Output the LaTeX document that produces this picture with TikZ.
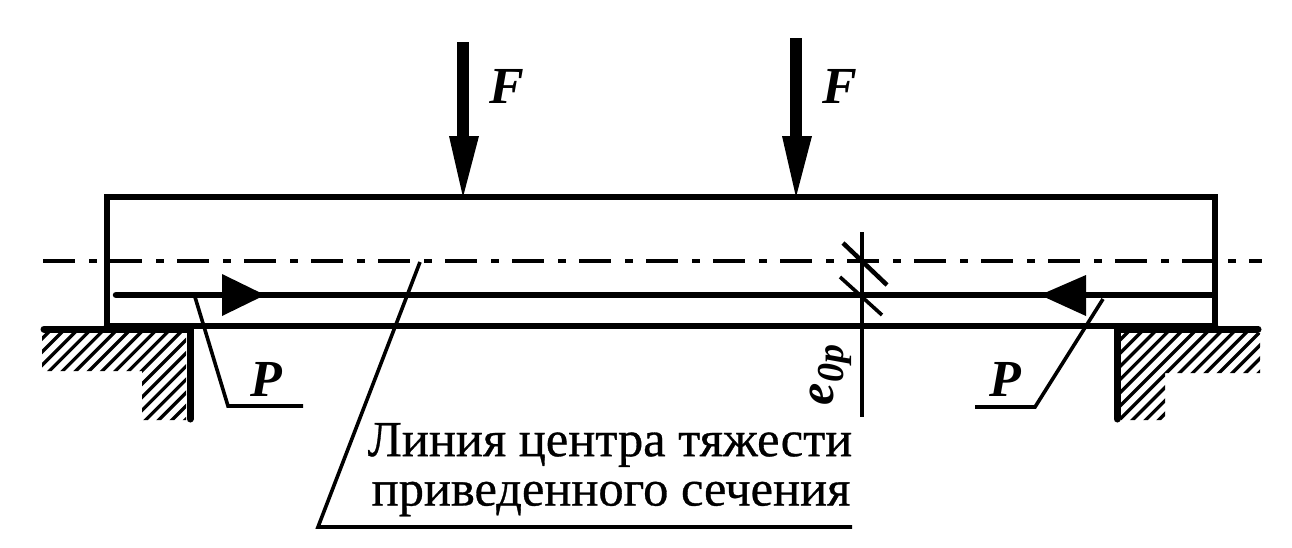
\documentclass[tikz,border=0pt]{standalone}
\usepackage{fontspec}
\setmainfont{Liberation Serif}
\begin{document}
\begin{tikzpicture}[x=1pt,y=-1pt,
  thick line/.style={line width=6.5pt,line cap=round},
  thin line/.style={line width=3.6pt},
  hatching/.style={line width=3.3pt},
  label/.style={inner sep=0pt,font=\fontsize{52}{52}\selectfont\bfseries\itshape},
  caption/.style={inner sep=0pt,font=\fontsize{50.5}{50.5}\selectfont\addfontfeature{FakeBold=0.6}},
]
\useasboundingbox[fill=white] (0,0) rectangle (1292,547);
% hatching
\begin{scope}
\clip (42,333) -- (186,333) -- (186,420) -- (142,420) -- (142,371) -- (42,371) -- cycle;
\foreach \i in {-6,...,20}{\draw[hatching] (30+\i*13.2,430) -- (30+\i*13.2+100,330);}
\end{scope}
\begin{scope}
\clip (1121,333) -- (1260,333) -- (1260,373) -- (1165,373) -- (1165,420) -- (1121,420) -- cycle;
\foreach \i in {-2,...,24}{\draw[hatching] (1030+\i*13.2,430) -- (1030+\i*13.2+100,330);}
\end{scope}
% beam
\draw[thick line] (107,326) -- (107,197) -- (1215,197) -- (1215,326);
\draw[thick line] (107,326) -- (1215,326);
% supports
\draw[line width=7pt,line cap=round] (44,329) -- (190,329) -- (190,419);
\draw[line width=7pt,line cap=round] (1117,419) -- (1117,329) -- (1258,329);
% centroid line
\draw[line width=4pt,dash pattern=on 32pt off 14pt on 8pt off 13pt] (43,261) -- (1262,261);
% tendon
\draw[thick line] (116,295) -- (1214,295);
\fill (222,274) -- (265,295) -- (222,316) -- cycle;
\fill (1040,295) -- (1086,275) -- (1086,316) -- cycle;
% forces
\draw[line width=12pt] (463,42) -- (463,145);
\fill (449,136) -- (479,136) -- (463,197) -- cycle;
\draw[line width=12pt] (796,38) -- (796,145);
\fill (782,136) -- (812,136) -- (796,197) -- cycle;
\node[label] (f1) at (507,86) {F};
\node[label] (f2) at (840,86) {F};
% dimension
\draw[line width=3.6pt] (862,232) -- (862,417);
\draw[line width=4.5pt] (843,243) -- (887,285);
\draw[line width=3.6pt] (840,277) -- (882,315);
\node[rotate=90,inner sep=0pt,font=\fontsize{50}{50}\selectfont\bfseries\itshape] (e) at (831,375) {e\raisebox{-0.2em}{\fontsize{38}{38}\selectfont 0\textit{p}}};
% leaders
\node[label] (p1) at (266,379) {P};
\node[label] (p2) at (1005,379) {P};
\draw[thin line] (195,297) -- (228,406) -- (303,406);
\draw[thin line] (1103,299) -- (1035,407) -- (975,407);
\draw[thin line] (420,262) -- (318,527) -- (852,527);
\node[caption] (c1) at (610,445) {Линия центра тяжести};
\node[caption] (c2) at (611,499) {приведенного сечения};
\end{tikzpicture}
\end{document}
